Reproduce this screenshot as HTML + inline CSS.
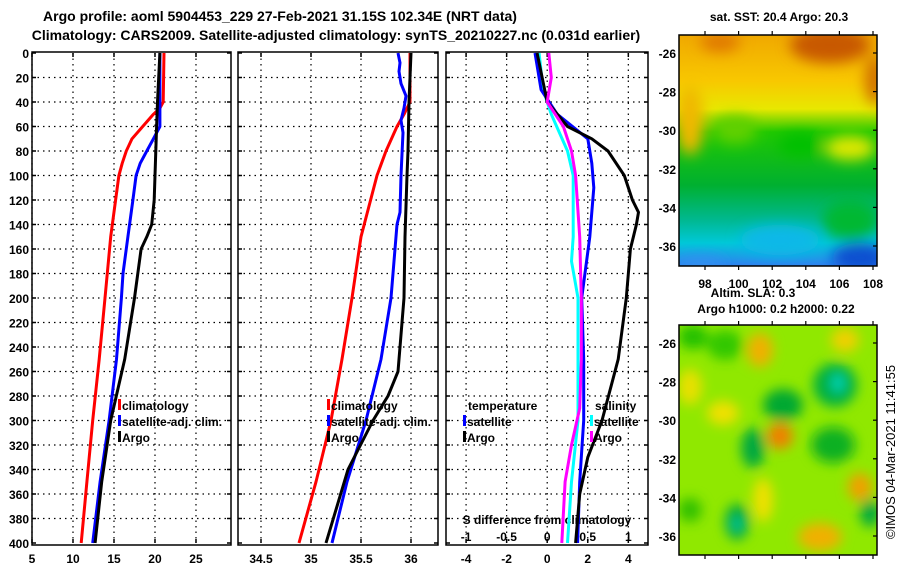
<!DOCTYPE html>
<html><head><meta charset="utf-8"><style>
html,body{margin:0;padding:0;background:#fff;}
svg{display:block;font-family:"Liberation Sans",sans-serif;font-weight:bold;}
</style></head><body>
<svg id="c" width="900" height="580" viewBox="0 0 900 580">
<defs>
<filter id="bl" x="-20%" y="-20%" width="140%" height="140%"><feGaussianBlur stdDeviation="7"/></filter>
<filter id="bl2" x="-20%" y="-20%" width="140%" height="140%"><feGaussianBlur stdDeviation="6"/></filter>
<clipPath id="cm1"><rect x="679" y="35" width="198" height="231"/></clipPath>
<clipPath id="cm2"><rect x="679" y="325" width="198" height="230"/></clipPath>
<linearGradient id="sst" x1="0" y1="0" x2="0" y2="1">
<stop offset="0" stop-color="#f0a800"/><stop offset="0.2" stop-color="#f8c800"/><stop offset="0.32" stop-color="#e8e800"/>
<stop offset="0.42" stop-color="#20c800"/><stop offset="0.65" stop-color="#00b030"/><stop offset="0.8" stop-color="#00b890"/>
<stop offset="0.9" stop-color="#00c8d8"/><stop offset="1" stop-color="#3080f0"/></linearGradient>
</defs>
<text x="280" y="21" font-size="14" text-anchor="middle">Argo profile: aoml 5904453_229 27-Feb-2021 31.15S 102.34E (NRT data)</text>
<text x="336" y="40" font-size="14" text-anchor="middle">Climatology: CARS2009. Satellite-adjusted climatology: synTS_20210227.nc (0.031d earlier)</text>

<g>
<text x="779" y="21" font-size="12" text-anchor="middle">sat. SST: 20.4 Argo: 20.3</text>
<g clip-path="url(#cm1)">
<rect x="679" y="35" width="198" height="231" fill="url(#sst)"/>
<g filter="url(#bl)">
<ellipse cx="830" cy="45" rx="40" ry="18" fill="#c85800"/>
<ellipse cx="720" cy="42" rx="20" ry="10" fill="#e07800"/>
<ellipse cx="875" cy="80" rx="10" ry="25" fill="#d07000"/>
<ellipse cx="690" cy="120" rx="14" ry="35" fill="#f0b800"/>
<ellipse cx="735" cy="130" rx="22" ry="14" fill="#60d000"/>
<ellipse cx="850" cy="148" rx="25" ry="12" fill="#e0e800"/>
<ellipse cx="800" cy="145" rx="22" ry="12" fill="#00c000"/>
<ellipse cx="850" cy="220" rx="28" ry="20" fill="#00b830"/>
<ellipse cx="780" cy="240" rx="40" ry="15" fill="#10b8e8"/>
<ellipse cx="860" cy="258" rx="28" ry="15" fill="#1050d0"/>
<ellipse cx="700" cy="265" rx="25" ry="8" fill="#3090f0"/>
</g></g>
<rect x="679" y="35" width="198" height="231" fill="none" stroke="#000" stroke-width="1.5"/>
</g>

<g>
<text x="753" y="297" font-size="12" text-anchor="middle">Altim. SLA: 0.3</text>
<text x="776" y="313" font-size="12" text-anchor="middle">Argo h1000: 0.2 h2000: 0.22</text>
<g clip-path="url(#cm2)">
<rect x="679" y="325" width="198" height="230" fill="#90e800"/>
<g filter="url(#bl2)">
<ellipse cx="693" cy="337" rx="15" ry="12" fill="#20c000"/>
<ellipse cx="725" cy="345" rx="18" ry="15" fill="#30c800"/>
<ellipse cx="760" cy="350" rx="13" ry="17" fill="#f0b000"/>
<ellipse cx="845" cy="340" rx="14" ry="12" fill="#f0d000"/>
<ellipse cx="835" cy="385" rx="22" ry="22" fill="#00b040"/>
<ellipse cx="838" cy="383" rx="6" ry="9" fill="#00d8c0"/>
<ellipse cx="783" cy="405" rx="20" ry="16" fill="#00a830"/>
<ellipse cx="780" cy="436" rx="13" ry="13" fill="#f08000"/>
<ellipse cx="753" cy="448" rx="12" ry="20" fill="#00a840"/>
<ellipse cx="723" cy="413" rx="16" ry="12" fill="#f0e000"/>
<ellipse cx="690" cy="387" rx="12" ry="18" fill="#e8e000"/>
<ellipse cx="833" cy="445" rx="22" ry="18" fill="#10b020"/>
<ellipse cx="737" cy="522" rx="12" ry="18" fill="#00a840"/>
<ellipse cx="737" cy="524" rx="5" ry="6" fill="#10d0b0"/>
<ellipse cx="860" cy="487" rx="12" ry="14" fill="#f0a000"/>
<ellipse cx="820" cy="537" rx="22" ry="14" fill="#f0b000"/>
<ellipse cx="763" cy="500" rx="10" ry="22" fill="#f0e000"/>
<ellipse cx="870" cy="513" rx="10" ry="14" fill="#00a840"/>
<ellipse cx="690" cy="510" rx="12" ry="12" fill="#30c000"/>
</g></g>
<rect x="679" y="325" width="198" height="230" fill="none" stroke="#000" stroke-width="1.5"/>
</g>
<text transform="translate(895,452) rotate(-90)" font-size="13" font-weight="normal" text-anchor="middle">©IMOS 04-Mar-2021 11:41:55</text>
<g id="dyn"></g>
</svg>
<script>
// ---- data ----
const depthTicks=[0,20,40,60,80,100,120,140,160,180,200,220,240,260,280,300,320,340,360,380,400];
const tTicks=[5,10,15,20,25];
const sTicks=[34.5,35,35.5,36];
const dTicks=[-4,-2,0,2,4];
const dsTicks=[-1,-0.5,0,0.5,1];
const dsTickLabels=["-1","-0.5","0","0.5","1"];
const latTicks=[-26,-28,-30,-32,-34,-36];
const lonTicks=[98,100,102,104,106,108];

const tClimD=[0,40,45,50,60,70,80,90,100,120,150,200,250,300,350,400];
const tClimV=[21.1,21.0,20.6,19.8,18.5,17.2,16.5,16.0,15.6,15.2,14.6,13.9,13.2,12.4,11.7,11.0];
const tSatD=[0,60,70,80,90,100,120,150,180,200,250,300,350,400];
const tSatV=[20.6,20.6,19.8,19.0,18.2,17.7,17.3,16.7,16.1,15.9,15.3,14.4,13.3,12.4];
const tArgoD=[0,40,60,100,120,140,150,160,200,250,300,350,400];
const tArgoV=[20.6,20.3,20.2,20.0,19.9,19.6,19.0,18.3,17.5,16.3,14.6,13.5,12.7];

const sClimD=[0,40,50,60,80,100,150,200,250,300,350,400];
const sClimV=[35.99,35.99,35.93,35.86,35.75,35.66,35.5,35.41,35.31,35.2,35.05,34.88];
const sSatD=[0,8,15,25,35,45,55,65,100,130,140,160,200,250,300,350,400];
const sSatV=[35.87,35.89,35.88,35.9,35.95,35.93,35.9,35.92,35.9,35.89,35.86,35.84,35.8,35.7,35.55,35.36,35.21];
const sArgoD=[0,40,80,100,150,200,260,280,300,340,370,400];
const sArgoV=[36.0,35.98,35.97,35.96,35.94,35.93,35.87,35.77,35.62,35.37,35.26,35.15];

const dtSatD=[0,30,50,70,90,110,130,150,200,250,300,350,400];
const dtSatV=[-0.6,-0.3,0.5,2.0,2.2,2.3,2.2,2.1,1.7,1.8,1.8,1.6,1.5];
const dtArgoD=[0,40,60,70,80,100,120,130,140,160,200,250,300,330,360,400];
const dtArgoV=[-0.5,0,1.0,2.2,3.0,3.8,4.2,4.5,4.4,4.1,3.9,3.5,2.7,2.0,1.6,1.4];
const dsSatD=[0,30,50,80,100,150,170,200,250,300,350,400];
const dsSatV=[-0.1,-0.05,0.05,0.25,0.32,0.32,0.3,0.38,0.38,0.38,0.3,0.25];
const dsArgoD=[0,20,40,60,80,100,150,200,250,290,320,350,400];
const dsArgoV=[0.02,0.05,0,0.2,0.3,0.35,0.4,0.42,0.42,0.4,0.3,0.22,0.18];

// ---- axes ----
const Y0=53,Y1=543;
const yD=d=>Y0+(Y1-Y0)*d/400;
const P1={x0:32,x1:231,v0:5,v1:29.27};
const P2={x0:238,x1:438,v0:34.27,v1:36.27};
const P3={x0:446,x1:648,v0:-4.99,v1:4.97};
const xv=(p,v)=>p.x0+(p.x1-p.x0)*(v-p.v0)/(p.v1-p.v0);
const xs=v=>xv(P3,v*4);
const NS='http://www.w3.org/2000/svg';
const g=document.getElementById('dyn');
function mk(tag,attrs,parent){const e=document.createElementNS(NS,tag);for(const k in attrs)e.setAttribute(k,attrs[k]);(parent||g).appendChild(e);return e;}
function txt(x,y,s,anchor,size,name){const e=mk('text',{x:x,y:y,'text-anchor':anchor,'font-size':size});e.textContent=s;


return e;}

function panel(p,ticks,labelFn,name){
  const grp=mk('g',{});
  
  
  ticks.forEach(t=>{const x=xv(p,t);
    mk('line',{x1:x,x2:x,y1:Y0,y2:Y1,stroke:'#000','stroke-width':1.2,'stroke-dasharray':'1.5,4'},grp);
    mk('line',{x1:x,x2:x,y1:Y1,y2:Y1-4,stroke:'#000','stroke-width':1.5},grp);
    mk('line',{x1:x,x2:x,y1:Y0,y2:Y0+4,stroke:'#000','stroke-width':1.5},grp);
    txt(x,563,labelFn(t),'middle',12,name+'-x-tick');});
  depthTicks.forEach(d=>{const y=yD(d);
    if(d>0&&d<400)mk('line',{x1:p.x0,x2:p.x1,y1:y,y2:y,stroke:'#000','stroke-width':1.2,'stroke-dasharray':'1.5,4'},grp);
    mk('line',{x1:p.x0,x2:p.x0+4,y1:y,y2:y,stroke:'#000','stroke-width':1.5},grp);
    mk('line',{x1:p.x1,x2:p.x1-4,y1:y,y2:y,stroke:'#000','stroke-width':1.5},grp);});
  mk('rect',{x:p.x0,y:Y0-1,width:p.x1-p.x0,height:Y1-Y0+3,fill:'none',stroke:'#000','stroke-width':1.5},grp);
}
panel(P1,tTicks,t=>String(t),'temperature-panel');
panel(P2,sTicks,t=>String(t),'salinity-panel');
panel(P3,dTicks,t=>String(t),'difference-panel');
depthTicks.forEach(d=>{txt(29,yD(d)+5,String(d),'end',12,'depth-tick-label');});
txt(547,524,'S difference from climatology','middle',12,'s-difference-axis-title');
dsTicks.forEach((s,i)=>{txt(xs(s),541,dsTickLabels[i],'middle',12,'s-difference-tick');});

function line(p,D,V,color,name,xf){
  const pts=D.map((d,i)=>(xf?xf(V[i]):xv(p,V[i])).toFixed(1)+','+yD(d).toFixed(1)).join(' ');
  const e=mk('polyline',{points:pts,fill:'none',stroke:color,'stroke-width':3,'stroke-linejoin':'round'});
  
  
}
line(P1,tClimD,tClimV,'#ff0000','temp-climatology-line');
line(P1,tSatD,tSatV,'#0000ff','temp-satellite-line');
line(P1,tArgoD,tArgoV,'#000000','temp-argo-line');
line(P2,sClimD,sClimV,'#ff0000','sal-climatology-line');
line(P2,sSatD,sSatV,'#0000ff','sal-satellite-line');
line(P2,sArgoD,sArgoV,'#000000','sal-argo-line');
line(P3,dsSatD,dsSatV,'#00ffff','ds-satellite-line',xs);
line(P3,dtSatD,dtSatV,'#0000ff','dt-satellite-line');
line(P3,dtArgoD,dtArgoV,'#000000','dt-argo-line');
line(P3,dsArgoD,dsArgoV,'#ff00ff','ds-argo-line',xs);

function legend(x,y,color,label){
  const r=mk('rect',{x:x,y:y-11,width:3,height:11,fill:color});
  
  
  txt(x+4,y,label,'start',12,'legend-entry');
}
legend(118,410,'#ff0000','climatology');legend(118,426,'#0000ff','satellite-adj. clim.');legend(118,442,'#000000','Argo');
legend(327,410,'#ff0000','climatology');legend(327,426,'#0000ff','satellite-adj. clim.');legend(327,442,'#000000','Argo');
txt(468,410,'temperature','start',12,'legend-header-temperature');
legend(463,426,'#0000ff','satellite');legend(463,442,'#000000','Argo');
txt(595,410,'salinity','start',12,'legend-header-salinity');
legend(590,426,'#00ffff','satellite');legend(590,442,'#ff00ff','Argo');

// map axes
function mapAxes(x0,x1,y0,y1,latY,lonLabels,name){
  const grp=mk('g',{});
  
  
  latTicks.forEach(l=>{const y=latY(l);
    mk('line',{x1:x1-4,x2:x1,y1:y,y2:y,stroke:'#000','stroke-width':1.2},grp);
    txt(x0-3,y+5,String(l),'end',12,name+'-lat-label');});
  lonTicks.forEach(l=>{const x=705+(l-98)*16.8;
    mk('line',{x1:x,x2:x,y1:y0-4,y2:y0,stroke:'#000','stroke-width':1.2},grp);
    mk('line',{x1:x,x2:x,y1:y1,y2:y1+4,stroke:'#000','stroke-width':1.2},grp);
    if(lonLabels)txt(x,y1+22,String(l),'middle',12,name+'-lon-label');});
}
mapAxes(679,877,35,266,l=>53+(-26-l)*19.3,true,'sst-map-axes');
mapAxes(679,877,325,555,l=>343+(-26-l)*19.3,false,'sla-map-axes');
</script>
</body></html>
